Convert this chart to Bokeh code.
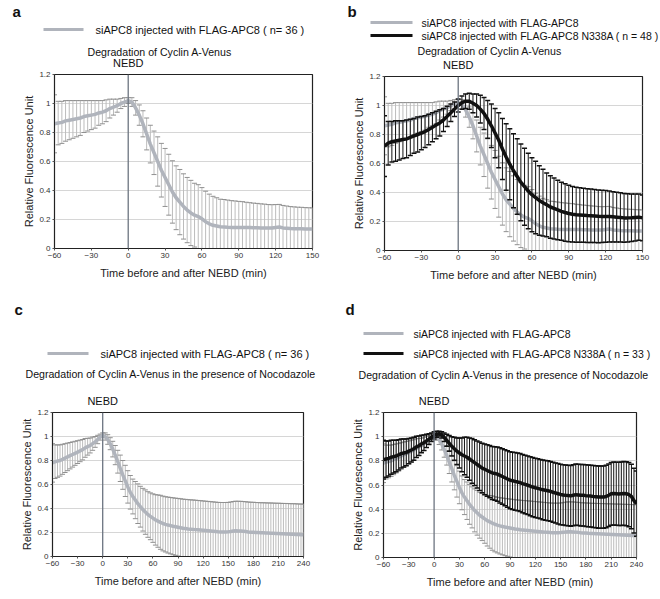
import numpy as np
from bokeh.plotting import figure
from bokeh.models import Span, FixedTicker, NumeralTickFormatter, Range1d
from bokeh.core.properties import value
from bokeh.layouts import column, row
from bokeh.embed import file_html
from bokeh.resources import INLINE

# ---------------- data ----------------
t_short = list(range(-60, 151, 3))   # time points panels a, b (min)
t_long = list(range(-60, 241, 3))    # time points panels c, d (min)
x_ticks_short = [-60, -30, 0, 30, 60, 90, 120, 150]
x_ticks_long = [-60, -30, 0, 30, 60, 90, 120, 150, 180, 210, 240]
y_ticks = [0, 0.2, 0.4, 0.6, 0.8, 1.0, 1.2]

# siAPC8 + FLAG-APC8 (no nocodazole), mean and SD
wt_mean = [0.86, 0.865, 0.87, 0.88, 0.885, 0.89, 0.895, 0.90, 0.91, 0.915,
           0.92, 0.925, 0.935, 0.94, 0.95, 0.965, 0.975, 0.985, 1.0, 1.01,
           1.02, 1.01, 0.97, 0.92, 0.86, 0.79, 0.72, 0.66, 0.60, 0.54,
           0.49, 0.44, 0.39, 0.35, 0.32, 0.29, 0.265, 0.245, 0.23, 0.22,
           0.205, 0.185, 0.17, 0.16, 0.155, 0.15, 0.148, 0.146, 0.145, 0.145,
           0.145, 0.145, 0.144, 0.144, 0.143, 0.143, 0.142, 0.142, 0.141, 0.142,
           0.145, 0.148, 0.142, 0.14, 0.138, 0.137, 0.136, 0.136, 0.135, 0.135,
           0.135]
wt_sd = [0.20, 0.15, 0.145, 0.14, 0.135, 0.13, 0.125, 0.12, 0.11, 0.105,
         0.10, 0.095, 0.085, 0.08, 0.075, 0.065, 0.055, 0.045, 0.035, 0.03,
         0.02, 0.03, 0.05, 0.07, 0.09, 0.11, 0.13, 0.15, 0.17, 0.185,
         0.20, 0.21, 0.215, 0.22, 0.225, 0.225, 0.225, 0.225, 0.22, 0.22,
         0.215, 0.21, 0.205, 0.20, 0.195, 0.19, 0.19, 0.188, 0.185, 0.183,
         0.18, 0.178, 0.175, 0.172, 0.17, 0.168, 0.166, 0.164, 0.162, 0.16,
         0.158, 0.156, 0.155, 0.153, 0.151, 0.15, 0.149, 0.148, 0.147, 0.146,
         0.145]

# siAPC8 + FLAG-APC8 N338A (no nocodazole)
mut_mean = [0.72, 0.74, 0.75, 0.755, 0.76, 0.765, 0.77, 0.78, 0.79, 0.80,
            0.81, 0.82, 0.835, 0.85, 0.865, 0.88, 0.90, 0.925, 0.95, 0.975,
            1.0, 1.02, 1.03, 1.03, 1.015, 1.0, 0.975, 0.945, 0.905, 0.86,
            0.81, 0.76, 0.70, 0.645, 0.595, 0.55, 0.51, 0.47, 0.44, 0.41,
            0.385, 0.365, 0.345, 0.33, 0.315, 0.30, 0.29, 0.28, 0.27, 0.262,
            0.255, 0.25, 0.247, 0.245, 0.243, 0.241, 0.24, 0.238, 0.236, 0.235,
            0.235, 0.234, 0.232, 0.23, 0.228, 0.225, 0.225, 0.226, 0.228, 0.23,
            0.225]
mut_sd = [0.21, 0.15, 0.14, 0.14, 0.135, 0.13, 0.13, 0.125, 0.12, 0.12,
          0.115, 0.11, 0.105, 0.10, 0.095, 0.09, 0.08, 0.07, 0.06, 0.05,
          0.045, 0.045, 0.05, 0.055, 0.065, 0.08, 0.095, 0.11, 0.13, 0.15,
          0.17, 0.19, 0.21, 0.23, 0.245, 0.255, 0.26, 0.265, 0.265, 0.26,
          0.255, 0.25, 0.24, 0.23, 0.22, 0.215, 0.21, 0.205, 0.20, 0.198,
          0.195, 0.192, 0.19, 0.188, 0.186, 0.185, 0.184, 0.183, 0.182, 0.18,
          0.178, 0.176, 0.174, 0.172, 0.17, 0.168, 0.166, 0.164, 0.162, 0.16,
          0.158]

# siAPC8 + FLAG-APC8, nocodazole
wt_noc_mean = [0.78, 0.79, 0.795, 0.80, 0.81, 0.82, 0.83, 0.84, 0.85, 0.86,
               0.87, 0.88, 0.89, 0.905, 0.915, 0.925, 0.94, 0.955, 0.975, 0.995,
               1.01, 1.0, 0.975, 0.94, 0.895, 0.845, 0.79, 0.735, 0.68, 0.63,
               0.58, 0.535, 0.50, 0.47, 0.44, 0.415, 0.39, 0.37, 0.35, 0.335,
               0.32, 0.305, 0.295, 0.285, 0.275, 0.268, 0.262, 0.257, 0.252, 0.248,
               0.244, 0.24, 0.236, 0.233, 0.23, 0.228, 0.226, 0.224, 0.222, 0.22,
               0.218, 0.216, 0.214, 0.212, 0.21, 0.208, 0.206, 0.205, 0.205, 0.205,
               0.206, 0.208, 0.212, 0.214, 0.213, 0.212, 0.21, 0.208, 0.205, 0.203,
               0.202, 0.20, 0.199, 0.198, 0.197, 0.196, 0.195, 0.194, 0.193, 0.192,
               0.191, 0.19, 0.189, 0.188, 0.187, 0.186, 0.185, 0.184, 0.183, 0.182,
               0.181]
wt_noc_sd = [0.16, 0.14, 0.135, 0.13, 0.125, 0.12, 0.115, 0.11, 0.105, 0.10,
             0.095, 0.09, 0.085, 0.078, 0.07, 0.062, 0.055, 0.045, 0.035, 0.025,
             0.02, 0.03, 0.04, 0.05, 0.065, 0.08, 0.095, 0.11, 0.12, 0.13,
             0.135, 0.14, 0.145, 0.155, 0.165, 0.17, 0.178, 0.185, 0.19, 0.195,
             0.202, 0.21, 0.218, 0.225, 0.228, 0.23, 0.233, 0.235, 0.237, 0.238,
             0.24, 0.241, 0.242, 0.243, 0.244, 0.244, 0.245, 0.245, 0.245, 0.245,
             0.245, 0.245, 0.245, 0.245, 0.245, 0.245, 0.245, 0.245, 0.245, 0.245,
             0.245, 0.246, 0.246, 0.247, 0.247, 0.248, 0.248, 0.248, 0.249, 0.249,
             0.25, 0.25, 0.25, 0.25, 0.251, 0.251, 0.251, 0.252, 0.252, 0.252,
             0.253, 0.253, 0.253, 0.254, 0.254, 0.254, 0.255, 0.255, 0.255, 0.255,
             0.256]

# siAPC8 + FLAG-APC8 N338A, nocodazole
mut_noc_mean = [0.81, 0.815, 0.82, 0.83, 0.835, 0.84, 0.85, 0.86, 0.865, 0.87,
                0.88, 0.89, 0.90, 0.915, 0.925, 0.94, 0.95, 0.965, 0.98, 0.995,
                1.01, 1.02, 1.025, 1.015, 0.995, 0.97, 0.945, 0.92, 0.90, 0.88,
                0.865, 0.85, 0.84, 0.83, 0.815, 0.80, 0.785, 0.77, 0.755, 0.74,
                0.73, 0.72, 0.71, 0.70, 0.695, 0.69, 0.68, 0.67, 0.66, 0.65,
                0.64, 0.635, 0.63, 0.625, 0.62, 0.612, 0.605, 0.598, 0.59, 0.583,
                0.577, 0.572, 0.566, 0.56, 0.556, 0.552, 0.547, 0.54, 0.534, 0.528,
                0.522, 0.518, 0.515, 0.513, 0.51, 0.515, 0.52, 0.518, 0.515, 0.515,
                0.512, 0.51, 0.508, 0.505, 0.503, 0.50, 0.50, 0.50, 0.505, 0.515,
                0.527, 0.53, 0.528, 0.526, 0.528, 0.53, 0.528, 0.52, 0.505, 0.47,
                0.445]
mut_noc_sd = [0.16, 0.15, 0.145, 0.14, 0.135, 0.13, 0.125, 0.12, 0.115, 0.11,
              0.105, 0.10, 0.095, 0.088, 0.08, 0.072, 0.064, 0.055, 0.045, 0.035,
              0.03, 0.025, 0.02, 0.025, 0.035, 0.05, 0.065, 0.08, 0.095, 0.11,
              0.125, 0.14, 0.155, 0.165, 0.175, 0.185, 0.19, 0.195, 0.20, 0.205,
              0.21, 0.213, 0.216, 0.219, 0.222, 0.225, 0.228, 0.23, 0.232, 0.234,
              0.236, 0.237, 0.238, 0.239, 0.24, 0.241, 0.242, 0.243, 0.244, 0.245,
              0.245, 0.246, 0.246, 0.247, 0.247, 0.248, 0.248, 0.249, 0.249, 0.25,
              0.25, 0.25, 0.251, 0.251, 0.252, 0.252, 0.253, 0.253, 0.254, 0.254,
              0.255, 0.255, 0.256, 0.256, 0.257, 0.257, 0.258, 0.258, 0.259, 0.259,
              0.26, 0.26, 0.261, 0.262, 0.263, 0.264, 0.265, 0.266, 0.267, 0.268,
              0.27]

label_wt = "siAPC8 injected with FLAG-APC8"
label_wt_n36 = "siAPC8 injected with FLAG-APC8 ( n= 36 )"
label_mut_n48 = "siAPC8 injected with FLAG-APC8 N338A ( n = 48 )"
label_mut_n33 = "siAPC8 injected with FLAG-APC8 N338A ( n = 33 )"
title_plain = "Degradation of Cyclin A-Venus"
title_noc = "Degradation of Cyclin A-Venus in the presence of Nocodazole"
x_label = "Time before and after NEBD (min)"
y_label = "Relative Fluorescence Unit"

# ---------------- style ----------------
FONT = "Liberation Sans"
GRAY_LINE = "#b0b4bc"
GRAY_BAR = "#bcbcbc"
GRAY_CAP = "#909090"
BLACK = "#111111"


def make_plot(w, h, bl, br, bt, bb, xmax, xticks):
    p = figure(width=w, height=h, x_range=Range1d(-60, xmax), y_range=Range1d(0, 1.2),
               output_backend="svg", toolbar_location=None, frame_align=False,
               min_border_left=bl, min_border_right=br, min_border_top=bt, min_border_bottom=bb)
    p.xgrid.visible = False
    p.ygrid.grid_line_color = "#d6d6d6"
    p.ygrid.ticker = FixedTicker(ticks=y_ticks)
    p.outline_line_color = "#222222"
    p.outline_line_width = 1.2
    p.xaxis.ticker = FixedTicker(ticks=xticks)
    p.yaxis.ticker = FixedTicker(ticks=y_ticks)
    p.yaxis.formatter = NumeralTickFormatter(format="0.[0]")
    for ax in (p.xaxis[0], p.yaxis[0]):
        ax.axis_line_color = "#222222"
        ax.major_tick_line_color = "#555555"
        ax.major_tick_out = 2
        ax.major_tick_in = 0
        ax.minor_tick_line_color = None
        ax.major_label_text_font = FONT
        ax.major_label_text_font_size = "8px"
        ax.major_label_text_color = "#333333"
        ax.major_label_standoff = 2
        ax.axis_label_text_font = FONT
        ax.axis_label_text_font_size = "11px"
        ax.axis_label_text_font_style = "normal"
        ax.axis_label_text_color = "#222222"
    p.xaxis.axis_label = x_label
    p.yaxis.axis_label = y_label
    p.xaxis.axis_label_standoff = 6
    p.yaxis.axis_label_standoff = 1
    p.add_layout(Span(location=0, dimension="height", line_color="#6c7480", line_width=1.3))
    return p


def make_header(w, h):
    hp = figure(width=w, height=h, x_range=Range1d(0, w), y_range=Range1d(h, 0),
                output_backend="svg", toolbar_location=None, min_border=0, frame_align=False,
                x_axis_location=None, y_axis_location=None)
    hp.xgrid.visible = False
    hp.ygrid.visible = False
    hp.outline_line_color = None
    return hp


def add_series(p, t, mean, sd, line_color, bar_color, cap_color, lw, cap_w):
    m = np.array(mean)
    s = np.array(sd)
    hi = m + s
    lo = m - s
    p.segment(t, lo, t, hi, line_color=bar_color, line_width=1)
    p.scatter(t, hi, marker="dash", size=5, line_color=cap_color, line_width=cap_w)
    p.scatter(t, lo, marker="dash", size=5, line_color=cap_color, line_width=cap_w)
    p.line(t, mean, line_color=line_color, line_width=lw)


def htext(hp, X, Y, s, size="11px", bold=False, align="left", baseline="middle"):
    hp.text(x=[X], y=[Y], text=[s], text_font=value(FONT), text_font_size=size,
            text_font_style="bold" if bold else "normal", text_align=align,
            text_baseline=baseline, text_color="#111111")


def hline(hp, X0, X1, Y, color):
    hp.line(x=[X0, X1], y=[Y, Y], line_color=color, line_width=3)


def nebd(hp, bl, fw, xmax, Y):
    x0 = bl + fw * (0 - (-60)) / (xmax - (-60))
    htext(hp, x0, Y, "NEBD", size="11px", align="center")


# ---------------- panel a ----------------
ha = make_header(330, 68)
pa = make_plot(330, 232, 54, 18, 6, 52, 150, x_ticks_short)
add_series(pa, t_short, wt_mean, wt_sd, GRAY_LINE, GRAY_BAR, GRAY_CAP, 3.5, 1)
htext(ha, 12, 11, "a", size="15px", bold=True)
hline(ha, 43, 83, 29, GRAY_LINE)
htext(ha, 95, 29, label_wt_n36)
htext(ha, 87, 51, title_plain, size="10.6px")
nebd(ha, 54, 258, 150, 62)

# ---------------- panel b ----------------
hb = make_header(330, 70)
pb = make_plot(330, 230, 54, 18, 6, 50, 150, x_ticks_short)
add_series(pb, t_short, wt_mean, wt_sd, GRAY_LINE, GRAY_BAR, GRAY_CAP, 3.5, 1)
add_series(pb, t_short, mut_mean, mut_sd, BLACK, BLACK, BLACK, 3.5, 1.5)
htext(hb, 17, 11, "b", size="15px", bold=True)
hline(hb, 40, 82, 22, GRAY_LINE)
htext(hb, 91, 22, label_wt, size="10.5px")
hline(hb, 40, 82, 35, BLACK)
htext(hb, 91, 35, label_mut_n48, size="10.5px")
htext(hb, 87, 50, title_plain, size="10.6px")
nebd(hb, 54, 258, 150, 64)

# ---------------- panel c ----------------
hc = make_header(330, 106)
pc = make_plot(330, 193, 52, 27, 6, 43, 240, x_ticks_long)
add_series(pc, t_long, wt_noc_mean, wt_noc_sd, GRAY_LINE, GRAY_BAR, GRAY_CAP, 3.5, 1)
htext(hc, 14, 9, "c", size="15px", bold=True)
hline(hc, 47, 88, 53, GRAY_LINE)
htext(hc, 100, 53, label_wt_n36)
htext(hc, 25, 73, title_noc, size="10.6px")
nebd(hc, 52, 251, 240, 100)

# ---------------- panel d ----------------
hd = make_header(330, 106)
pd_ = make_plot(330, 193, 53, 24, 6, 42, 240, x_ticks_long)
add_series(pd_, t_long, wt_noc_mean, wt_noc_sd, GRAY_LINE, GRAY_BAR, GRAY_CAP, 3.5, 1)
add_series(pd_, t_long, mut_noc_mean, mut_noc_sd, BLACK, BLACK, BLACK, 3.5, 1.5)
htext(hd, 15, 9, "d", size="15px", bold=True)
hline(hd, 33, 73, 33, GRAY_LINE)
htext(hd, 83, 33, label_wt, size="10.5px")
hline(hd, 33, 73, 53, BLACK)
htext(hd, 83, 53, label_mut_n33, size="10.5px")
htext(hd, 28, 74, title_noc, size="10.6px")
nebd(hd, 53, 253, 240, 100)

layout = column(
    row(column(ha, pa, spacing=0), column(hb, pb, spacing=0), spacing=0),
    row(column(hc, pc, spacing=0), column(hd, pd_, spacing=0), spacing=0),
    spacing=0)

with open("out.html", "w") as f:
    f.write(file_html(layout, INLINE))
